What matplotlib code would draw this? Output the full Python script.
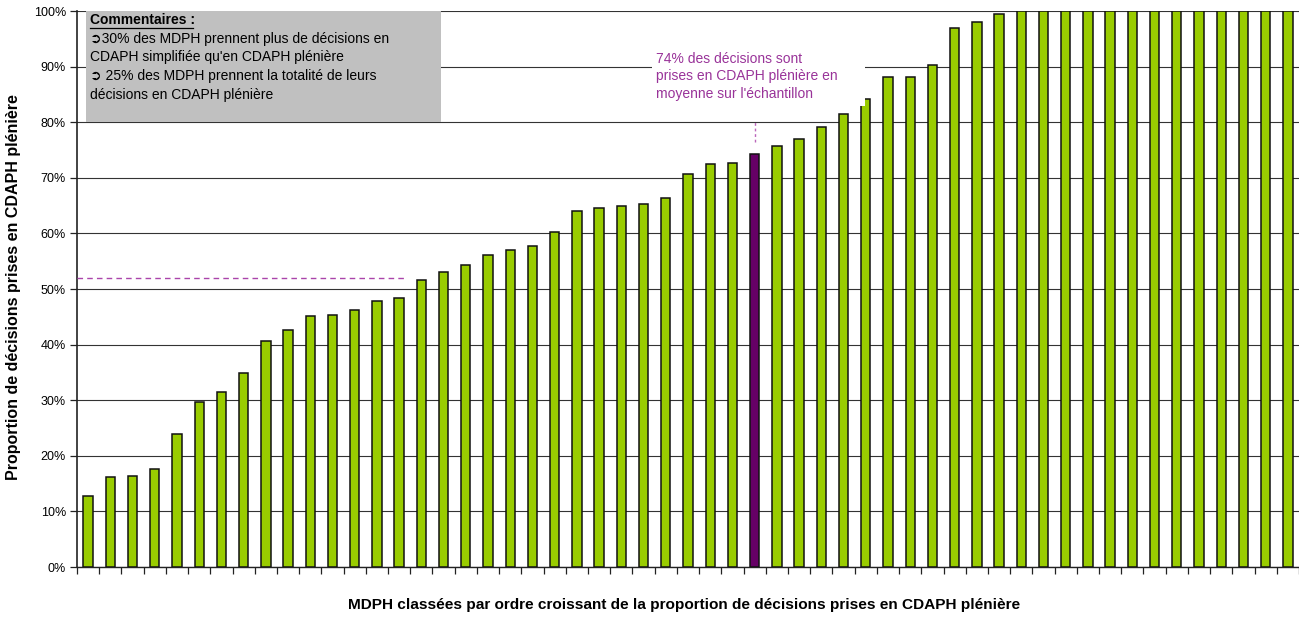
import matplotlib
matplotlib.use("Agg")
import matplotlib.pyplot as plt
from matplotlib.ticker import PercentFormatter
from matplotlib.patches import Rectangle
import numpy as np

plt.rcParams['font.family'] = ['Liberation Sans', 'DejaVu Sans']

# ---- data ----
values = [12.8, 16.2, 16.4, 17.6, 23.9, 29.6, 31.5, 34.9, 40.6, 42.6,
          45.1, 45.4, 46.2, 47.8, 48.4, 51.7, 53.1, 54.4, 56.1, 57.0,
          57.7, 60.3, 64.1, 64.5, 65.0, 65.3, 66.4, 70.6, 72.4, 72.7,
          74.2, 75.8, 77.0, 79.2, 81.4, 84.2, 88.2, 88.2, 90.2, 97.0,
          98.0, 99.4, 100, 100, 100, 100, 100, 100, 100, 100,
          100, 100, 100, 100, 100]
highlight_index = 30
mean_value = 74
median_line = 52.0
ytick_values = list(range(0, 101, 10))

ylabel = "Proportion de décisions prises en CDAPH plénière"
xlabel = "MDPH classées par ordre croissant de la proportion de décisions prises en CDAPH plénière"
mean_text = "74% des décisions sont\nprises en CDAPH plénière en\nmoyenne sur l'échantillon"
comment_title = "Commentaires :"
comment_lines = ["\u27b230% des MDPH prennent plus de décisions en",
                 "CDAPH simplifiée qu'en CDAPH plénière",
                 "\u27b2 25% des MDPH prennent la totalité de leurs",
                 "décisions en CDAPH plénière"]

GREEN = "#99CC00"
PURPLE = "#660066"
TEXTPURPLE = "#993399"

W, H = 1299, 619
fig = plt.figure(figsize=(W / 100, H / 100), dpi=100)
ax = fig.add_axes([77 / W, (H - 567) / H, (1299 - 77) / W, (567 - 11) / H])

n = len(values)
x = np.arange(n)
colors = [PURPLE if i == highlight_index else GREEN for i in range(n)]
ax.bar(x, values, width=0.42, color=colors, edgecolor="#111111", linewidth=1.1, zorder=3)

ax.set_xlim(-0.5, n - 0.5)
ax.set_ylim(0, 100)
ax.set_yticks(ytick_values)
ax.yaxis.set_major_formatter(PercentFormatter(decimals=0))
ax.set_xticks(np.arange(-0.5, n, 1.0))
ax.set_xticklabels([])
ax.tick_params(axis='x', direction='out', length=5, width=0.9, color="#222222")
ax.tick_params(axis='y', direction='out', length=5, width=0.9, color="#222222",
               labelsize=9, pad=3)
ax.grid(axis='y', color="#333333", linewidth=0.8, zorder=0)
ax.set_axisbelow(True)
for s in ['top', 'right']:
    ax.spines[s].set_visible(False)
ax.spines['left'].set_color("#222222")
ax.spines['bottom'].set_color("#222222")
ax.spines['left'].set_linewidth(1.2)
ax.spines['bottom'].set_linewidth(1.0)

# dashed line
ax.plot([-0.5, 14.35], [median_line, median_line], linestyle=(0, (4, 3)),
        color="#AA44AA", linewidth=1.0, zorder=4)
# dotted vertical marker above highlighted bar
ax.plot([highlight_index, highlight_index], [76.5, 80.3], linestyle=(0, (2, 2)),
        color="#BB66BB", linewidth=1.0, zorder=4)

# white annotation box (overlaps a bar corner as in the original)
fig.patches.append(Rectangle((652 / W, (H - 105.5) / H), (865 - 652) / W, (105.5 - 46) / H,
                             transform=fig.transFigure, facecolor="white",
                             edgecolor='none', zorder=4))
fig.text(656 / W, (H - 52) / H, mean_text, color=TEXTPURPLE, fontsize=10,
         ha='left', va='top', linespacing=1.3, zorder=5,
         transform=fig.transFigure)

# comment box
fig.patches.append(Rectangle((86 / W, (H - 122) / H), (441 - 86) / W, (122 - 11) / H,
                             transform=fig.transFigure, facecolor="#C0C0C0",
                             edgecolor='none', zorder=6))
fig.text(90 / W, (H - 20) / H, comment_title, fontsize=10, fontweight='bold',
         ha='left', va='center', zorder=7)
fig.add_artist(plt.Line2D([90 / W, 193 / W], [(H - 27.5) / H, (H - 27.5) / H],
                          color='black', linewidth=0.9, zorder=7))
for i, line in enumerate(comment_lines):
    fig.text(90 / W, (H - (38.5 + 18.7 * i)) / H, line, fontsize=10,
             ha='left', va='center', zorder=7)

fig.text(14 / W, (H - 287.5) / H, ylabel, rotation=90, fontsize=11.5, fontweight='bold',
         ha='center', va='center')
fig.text(684 / W, (H - 605) / H, xlabel, fontsize=11.1, fontweight='bold',
         ha='center', va='center')

fig.savefig("out.png", dpi=100)
